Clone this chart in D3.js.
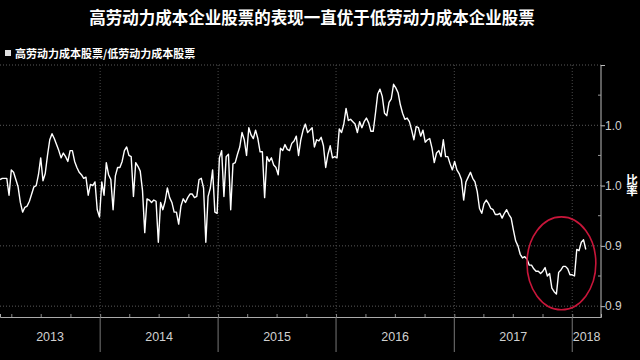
<!DOCTYPE html>
<html><head><meta charset="utf-8">
<script src="https://cdn.jsdelivr.net/npm/d3@7"></script>
<style>body{margin:0;background:#000;} svg{display:block;}</style>
</head><body>
<svg id="c" width="640" height="360"></svg>
<script>
const titleText = "高劳动力成本企业股票的表现一直优于低劳动力成本企业股票";
const seriesName = "高劳动力成本股票/低劳动力成本股票";
const yAxisLabel = "比率";
const startDate = "2013-02-25"; // first weekly observation
const ratio = [
1.005,1.006,1.006,1.006,0.992,1.013,1.011,1.005,0.999,0.986,
0.978,0.982,0.983,0.987,0.993,0.999,1.000,1.009,1.023,1.004,
1.010,1.025,1.038,1.043,1.039,1.034,1.029,1.023,1.027,1.024,
1.020,1.029,1.029,1.020,1.015,1.011,1.009,1.006,1.007,0.992,
1.001,1.000,1.003,0.980,0.974,1.003,0.992,1.019,1.009,1.005,
0.980,1.008,1.015,1.015,1.020,1.029,1.032,1.025,1.024,0.991,
1.019,1.016,1.012,0.996,0.961,0.989,0.988,0.986,0.988,0.987,
0.953,0.986,0.980,0.987,0.998,0.990,0.986,0.978,0.978,0.968,
0.983,0.989,0.986,0.990,0.993,0.993,0.990,0.991,1.005,1.006,
0.998,0.953,0.991,0.998,1.013,0.978,0.977,1.023,1.029,0.991,
1.024,1.026,0.980,1.018,1.019,1.026,1.032,1.044,1.038,1.025,
1.048,1.042,1.039,1.046,1.039,1.028,1.028,0.990,1.024,1.020,
1.023,1.017,1.015,1.009,1.031,1.029,1.034,1.030,1.029,1.035,
1.037,1.041,1.025,1.038,1.046,1.051,1.044,1.046,1.048,1.032,
1.038,1.037,1.040,1.033,1.015,1.026,1.033,1.023,1.024,1.023,
1.047,1.044,1.051,1.064,1.054,1.055,1.053,1.051,1.044,1.053,
1.048,1.053,1.056,1.052,1.045,1.045,1.060,1.076,1.080,1.074,
1.060,1.058,1.069,1.072,1.084,1.081,1.077,1.067,1.060,1.055,
1.056,1.053,1.046,1.038,1.049,1.048,1.041,1.046,1.036,1.038,
1.039,1.031,1.019,1.027,1.029,1.024,1.038,1.024,1.024,1.018,
1.013,1.020,1.013,1.010,1.005,0.988,1.003,1.007,1.011,1.006,
1.003,0.995,0.981,0.977,0.985,0.988,0.985,0.981,0.980,0.976,
0.976,0.977,0.973,0.977,0.980,0.976,0.973,0.963,0.954,0.950,
0.943,0.940,0.941,0.939,0.934,0.934,0.931,0.929,0.929,0.927,
0.929,0.932,0.925,0.927,0.915,0.912,0.910,0.928,0.930,0.933,
0.933,0.931,0.926,0.926,0.925,0.947,0.946,0.953,0.955,0.947
];
const xDomain = ["2013-02-25", "2018-03-31"];
const yDomain = [0.891, 1.1];
const yTickValues = [0.90, 0.95, 1.00, 1.05, 1.10];
const yTickLabels = ["0.9", "0.9", "1.0", "1.0", ""];
const yMinorTicks = [0.925, 0.975, 1.025, 1.075];
const years = [2013, 2014, 2015, 2016, 2017, 2018];
const highlightDates = ["2017-08-14", "2018-03-15"];
const highlightValues = [0.897, 0.974];

const svg = d3.select("#c");
const W = 640, H = 360;
const plot = {left: 0, right: 601, top: 65, bottom: 317};
const parse = d3.timeParse("%Y-%m-%d");
const t0 = parse(startDate);
const data = ratio.map((v, i) => ({date: d3.timeWeek.offset(t0, i), value: v}));

const x = d3.scaleTime().domain(xDomain.map(parse)).range([plot.left, plot.right]);
const y = d3.scaleLinear().domain(yDomain).range([plot.bottom, plot.top]);

svg.append("rect").attr("width", W).attr("height", H).attr("fill", "#000");

const cjk = "'Noto Sans CJK SC', 'Noto Sans', sans-serif";
const num = "'Liberation Sans Narrow', 'Liberation Sans', Arial, sans-serif";

// title
svg.append("text").attr("x", 312).attr("y", 24).attr("text-anchor", "middle")
  .attr("fill", "#fff").attr("font-family", cjk).attr("font-weight", 700)
  .attr("font-size", 16.5).text(titleText);

// legend
svg.append("rect").attr("x", 5).attr("y", 50).attr("width", 6).attr("height", 6).attr("fill", "#e0e0e0");
svg.append("text").attr("x", 15).attr("y", 57.5).attr("fill", "#fff")
  .attr("font-family", cjk).attr("font-weight", 700).attr("font-size", 11).text(seriesName);

// horizontal gridlines
svg.append("g").selectAll("line").data(yTickValues).join("line")
  .attr("x1", plot.left).attr("x2", plot.right)
  .attr("y1", d => y(d)).attr("y2", d => y(d))
  .attr("stroke", "#5a5a5a").attr("stroke-width", 1).attr("stroke-dasharray", "1,2");

// vertical gridlines at year starts
const yearStarts = years.map(yr => new Date(yr, 0, 1)).filter(d => x(d) > plot.left && x(d) < plot.right);
svg.append("g").selectAll("line").data(yearStarts).join("line")
  .attr("x1", d => x(d)).attr("x2", d => x(d))
  .attr("y1", plot.top).attr("y2", plot.bottom)
  .attr("stroke", "#4a4a4a").attr("stroke-width", 1).attr("stroke-dasharray", "1,2");

// x axis line + quarterly minor ticks
const xAxis = d3.axisBottom(x).tickValues(d3.timeMonth.every(3).range(...x.domain())).tickSize(-3).tickFormat("");
const gx = svg.append("g").attr("transform", `translate(0,${plot.bottom})`).call(xAxis);
gx.select(".domain").attr("stroke", "#aaa");
gx.selectAll(".tick line").attr("stroke", "#888");

// year separators & labels
svg.append("g").selectAll("line").data(yearStarts).join("line")
  .attr("x1", d => x(d)).attr("x2", d => x(d))
  .attr("y1", plot.bottom).attr("y2", 352)
  .attr("stroke", "#777").attr("stroke-width", 1);
svg.append("g").selectAll("text").data(years).join("text")
  .attr("x", yr => {
    const a = Math.max(x(new Date(yr, 0, 1)), plot.left);
    const b = Math.min(x(new Date(yr + 1, 0, 1)), plot.right);
    return (a + b) / 2;
  })
  .attr("y", 341).attr("text-anchor", "middle").attr("fill", "#d0d0d0")
  .attr("font-family", num).attr("font-size", 12.5).text(d => d);

// right y axis
const yAxis = d3.axisRight(y).tickValues(yTickValues).tickSize(4)
  .tickFormat((d, i) => yTickLabels[i]);
const gy = svg.append("g").attr("transform", `translate(${plot.right},0)`).call(yAxis);
gy.select(".domain").attr("stroke", "#bbb").attr("d", `M0,${plot.top}V${plot.bottom}`);
gy.selectAll(".tick line").attr("stroke", "#bbb");
gy.selectAll(".tick text").attr("fill", "#d0d0d0").attr("font-family", num)
  .attr("font-size", 12).attr("x", 4);
svg.append("g").selectAll("line").data(yMinorTicks).join("line")
  .attr("x1", plot.right - 3).attr("x2", plot.right)
  .attr("y1", d => y(d)).attr("y2", d => y(d)).attr("stroke", "#999");

// y label (vertical writing, single text element)
svg.append("text").attr("x", 632).attr("y", 185)
  .attr("text-anchor", "middle").style("writing-mode", "vertical-rl")
  .attr("fill", "#fff").attr("font-family", cjk).attr("font-weight", 700)
  .attr("font-size", 11.5).text(yAxisLabel);

// line
const line = d3.line().x(d => x(d.date)).y(d => y(d.value));
svg.append("path").datum(data).attr("d", line).attr("fill", "none")
  .attr("stroke", "#fff").attr("stroke-width", 1.4).attr("stroke-linejoin", "round");

// highlight ellipse
const hx = highlightDates.map(parse).map(x);
const hy = highlightValues.map(y);
svg.append("ellipse")
  .attr("cx", (hx[0] + hx[1]) / 2).attr("cy", (hy[0] + hy[1]) / 2)
  .attr("rx", (hx[1] - hx[0]) / 2).attr("ry", Math.abs(hy[0] - hy[1]) / 2)
  .attr("fill", "none").attr("stroke", "#c8163a").attr("stroke-width", 1.6);
</script>
</body></html>
